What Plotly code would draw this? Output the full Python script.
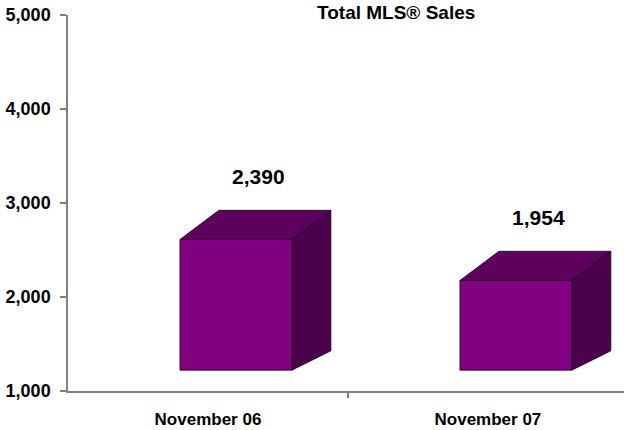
import plotly.graph_objects as go

# Monthly MLS sales, November of each year
categories = ["November 06", "November 07"]
sales = [2390, 1954]
value_labels = ["2,390", "1,954"]
y_ticks = [1000, 2000, 3000, 4000, 5000]

FONT = "Liberation Sans, Arial, sans-serif"

# 3D box geometry (axis units)
AXIS_FLOOR = 1000
FRONT_LIFT = 222       # front face rises above the axis floor
FRONT_LEFT, FRONT_RIGHT = -0.10, 0.30   # front face relative to category centre
DEPTH_X = 0.139
DEPTH_Y_TOP = 310
DEPTH_Y_BOTTOM = 205

FRONT_COLOR = "#800080"
TOP_COLOR = "#5e005e"
SIDE_COLOR = "#4a004a"
EDGE = "#1a001a"

fig = go.Figure()


def poly(xs, ys, color):
    fig.add_trace(go.Scatter(
        x=xs + [xs[0]], y=ys + [ys[0]], mode="lines", fill="toself",
        fillcolor=color, line=dict(color=EDGE, width=0.8),
        hoverinfo="skip", showlegend=False,
    ))


for i, v in enumerate(sales):
    xl = i + FRONT_LEFT
    xr = i + FRONT_RIGHT
    bottom = AXIS_FLOOR + FRONT_LIFT
    top = v + FRONT_LIFT
    # right side face
    poly([xr, xr, xr + DEPTH_X, xr + DEPTH_X],
         [bottom, top, top + DEPTH_Y_TOP, bottom + DEPTH_Y_BOTTOM], SIDE_COLOR)
    # top face
    poly([xl, xl + DEPTH_X, xr + DEPTH_X, xr],
         [top, top + DEPTH_Y_TOP, top + DEPTH_Y_TOP, top], TOP_COLOR)
    # front face
    poly([xl, xl, xr, xr], [bottom, top, top, bottom], FRONT_COLOR)

# value labels above each box
fig.add_trace(go.Scatter(
    x=[i + 0.18 for i in range(len(sales))],
    y=[v + 865 for v in sales],
    mode="text", text=[f"<b>{t}</b>" for t in value_labels],
    textposition="middle center",
    textfont=dict(family=FONT, size=21, color="black"),
    hoverinfo="skip", showlegend=False,
))

fig.add_annotation(
    text="<b>Total MLS® Sales</b>", xref="paper", yref="paper",
    x=(396 - 68) / 556, y=1.0, xanchor="center", yanchor="bottom",
    yshift=-10,
    showarrow=False, font=dict(family=FONT, size=19, color="black"),
)

fig.update_layout(
    width=624, height=430,
    margin=dict(l=68, r=0, t=15, b=39),
    paper_bgcolor="white", plot_bgcolor="white",
    font=dict(family=FONT, color="black"),
)

fig.update_xaxes(
    range=[-0.5, 1.486], tickvals=[0, 1], ticktext=[f"<b>{c}</b>" for c in categories],
    ticks="", showgrid=False, zeroline=False,
    showline=True, linecolor="#808080", linewidth=1.5,
    tickfont=dict(family=FONT, size=17, color="black"),
    ticklabelstandoff=12,
    minor=dict(tickvals=[0.5], ticks="outside", ticklen=5, tickcolor="#808080", tickwidth=1.5),
)

fig.update_yaxes(
    range=[1000, 5000], tickvals=y_ticks,
    ticktext=[f"<b>{t:,}</b>" for t in y_ticks],
    ticks="outside", ticklen=6, tickcolor="#808080", tickwidth=1.5,
    showgrid=False, zeroline=False,
    showline=True, linecolor="#808080", linewidth=1.5,
    tickfont=dict(family=FONT, size=18, color="black"),
    ticklabelstandoff=6,
)

fig.write_html("out.html")
